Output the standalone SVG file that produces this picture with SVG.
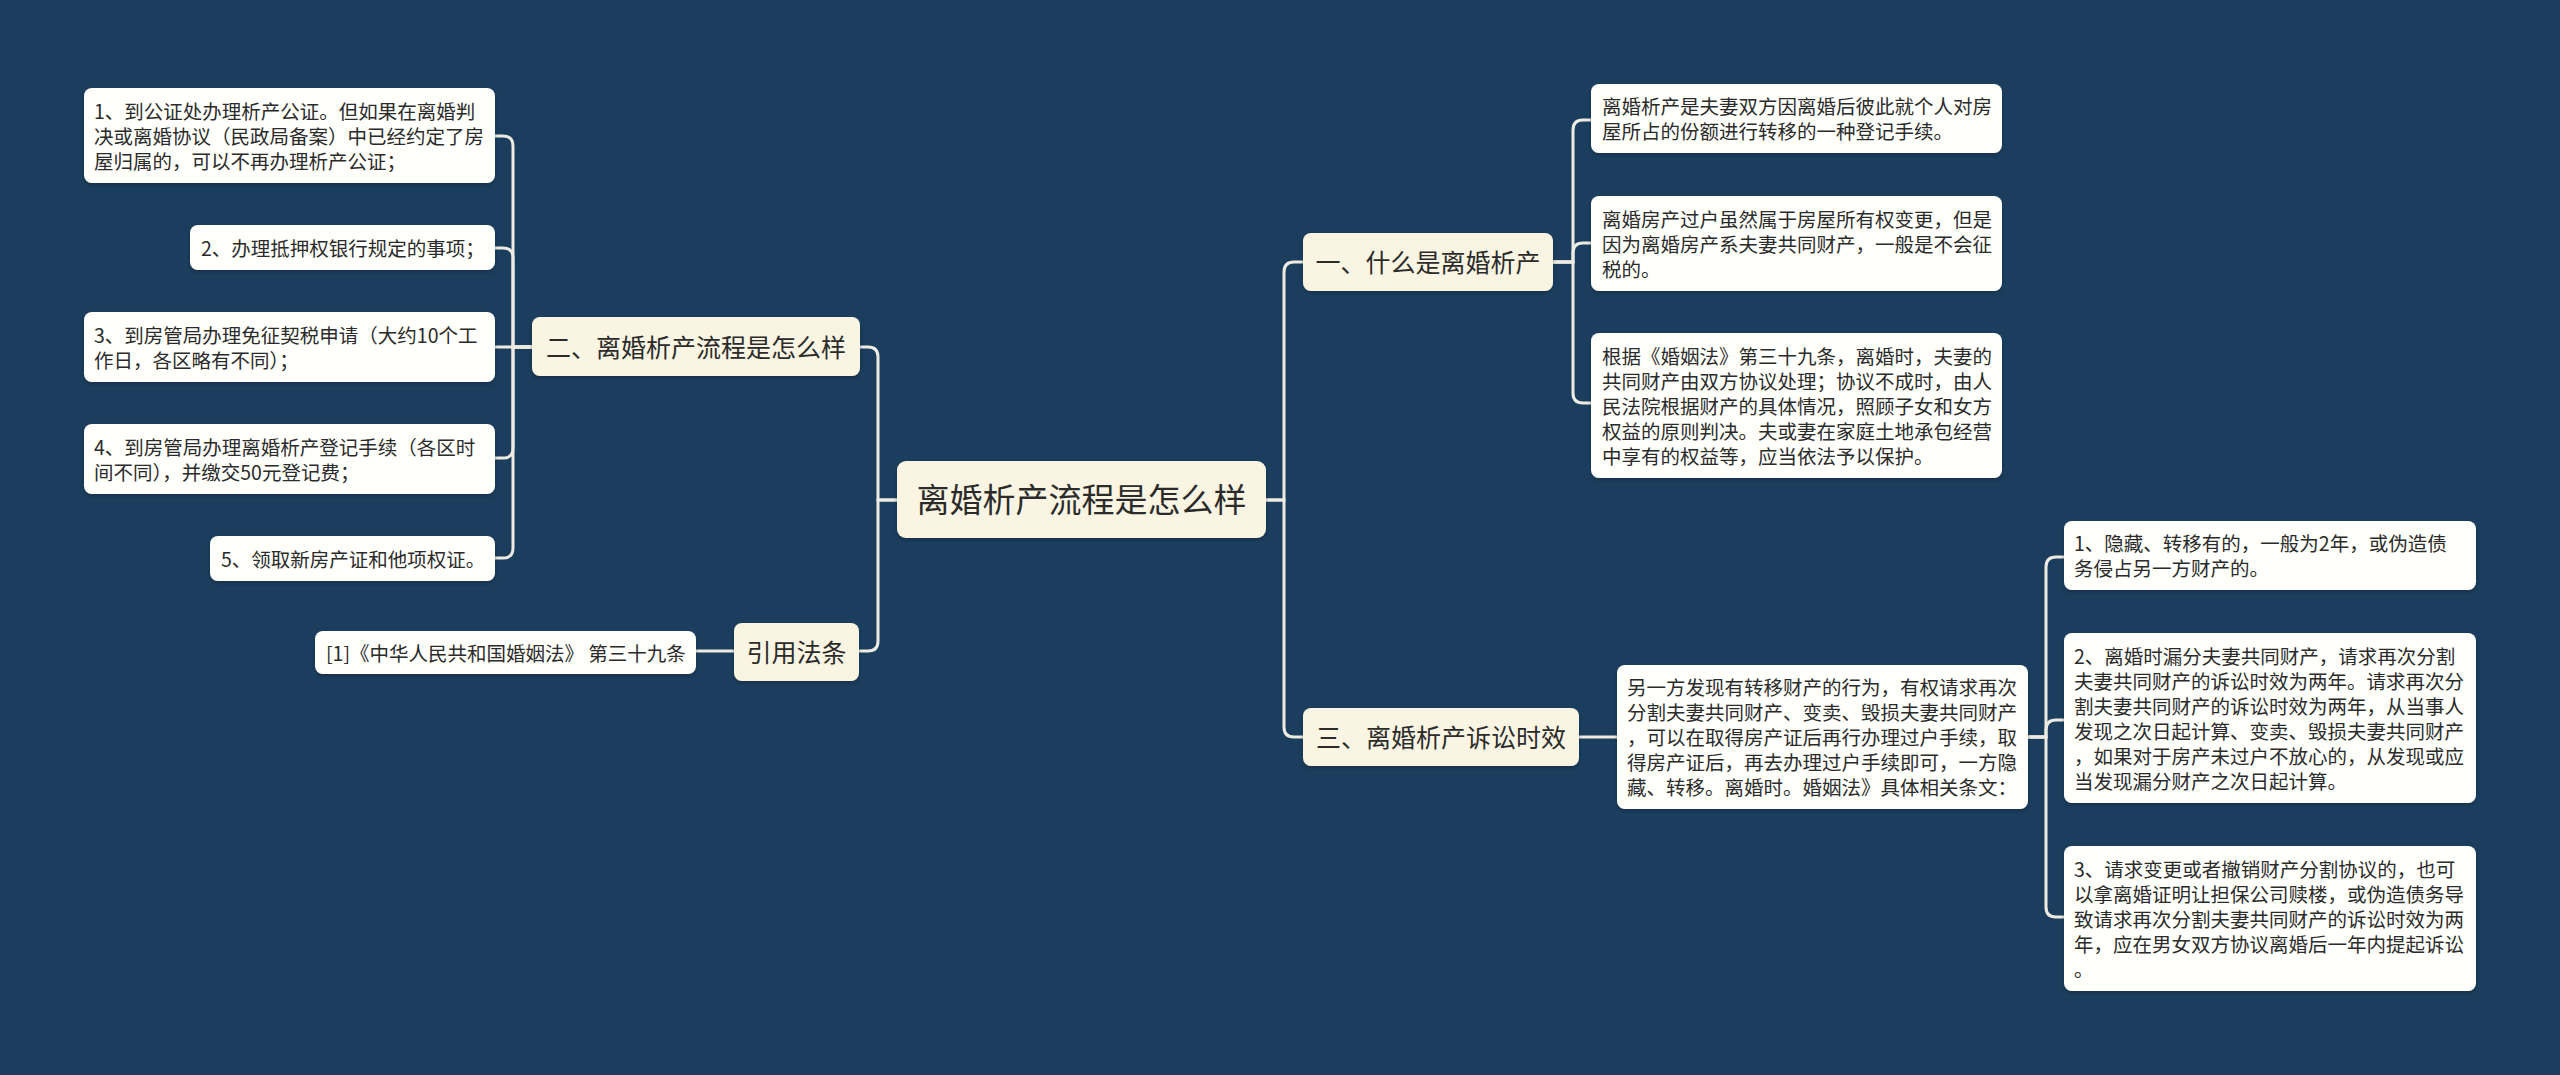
<svg xmlns="http://www.w3.org/2000/svg" width="2560" height="1075" viewBox="0 0 2560 1075">
<defs>
<filter id="sh" x="-5%" y="-10%" width="110%" height="130%">
<feDropShadow dx="0" dy="2" stdDeviation="1.5" flood-color="#0a1e30" flood-opacity="0.5"/>
</filter>
</defs>
<style>
.bg{fill:#1b3e5e}
.leaf rect{fill:#fffffb;filter:url(#sh)}
.branch rect{fill:#f9f5e2;filter:url(#sh)}
.lt{font-family:"Noto Sans CJK SC","Noto Sans",sans-serif;font-size:19.5px;fill:#2b2b2b}
.bt{font-family:"Noto Sans CJK SC","Noto Sans",sans-serif;font-size:25px;fill:#2b2b2b;text-anchor:middle}
.ct{font-family:"Noto Sans CJK SC","Noto Sans",sans-serif;font-size:33px;fill:#2b2b2b;text-anchor:middle}
.conn path{fill:none;stroke:#eeece2;stroke-width:3}
</style>
<rect class="bg" x="0" y="0" width="2560" height="1075"/>

<g class="conn" id="connectors">
<!-- central to left branches -->
<path d="M897,500 H878 V357 Q878,347 868,347 H860"/>
<path d="M897,500 H878 V641 Q878,651 868,651 H859"/>
<!-- central to right branches -->
<path d="M1266,500 H1284 V272 Q1284,262 1294,262 H1303"/>
<path d="M1266,500 H1284 V727 Q1284,737 1294,737 H1303"/>
<!-- branch 2 to leaves -->
<path d="M532,347 H513 V146 Q513,136 503,136 H495"/>
<path d="M532,347 H513 V258 Q513,248 503,248 H495"/>
<path d="M532,347 H495"/>
<path d="M532,347 H513 V448 Q513,458 503,458 H495"/>
<path d="M532,347 H513 V548 Q513,558 503,558 H495"/>
<!-- cite -->
<path d="M734,651 H696"/>
<!-- branch 1 to leaves -->
<path d="M1553,262 H1573 V130 Q1573,120 1583,120 H1591"/>
<path d="M1553,262 H1573 V253 Q1573,243 1583,243 H1591"/>
<path d="M1553,262 H1573 V393 Q1573,403 1583,403 H1591"/>
<!-- branch 3 -->
<path d="M1579,737 H1617"/>
<path d="M2028,737 H2046 V567 Q2046,557 2056,557 H2064"/>
<path d="M2028,737 H2046 V730 Q2046,720 2056,720 H2064"/>
<path d="M2028,737 H2046 V907 Q2046,917 2056,917 H2064"/>
</g>

<g class="branch" id="root">
<rect x="897" y="461" width="369" height="77" rx="9"/>
<text class="ct" x="1081.5" y="512">离婚析产流程是怎么样</text>
</g>

<g class="branch" id="b2">
<rect x="532" y="317" width="328" height="59" rx="8"/>
<text class="bt" x="696" y="356.5">二、离婚析产流程是怎么样</text>
</g>
<g class="branch" id="bcite">
<rect x="734" y="623" width="125" height="58" rx="8"/>
<text class="bt" x="796.5" y="661.5">引用法条</text>
</g>
<g class="branch" id="b1">
<rect x="1303" y="233" width="250" height="58" rx="8"/>
<text class="bt" x="1428" y="271.5">一、什么是离婚析产</text>
</g>
<g class="branch" id="b3">
<rect x="1303" y="708" width="276" height="58" rx="8"/>
<text class="bt" x="1441" y="746.5">三、离婚析产诉讼时效</text>
</g>

<g class="leaf" id="l1">
<rect x="84" y="88" width="411" height="95" rx="8"/>
<text class="lt" x="94" y="119">1、到公证处办理析产公证。但如果在离婚判</text>
<text class="lt" x="94" y="144">决或离婚协议（民政局备案）中已经约定了房</text>
<text class="lt" x="94" y="169">屋归属的，可以不再办理析产公证；</text>
</g>
<g class="leaf" id="l2">
<rect x="190" y="225" width="305" height="45" rx="8"/>
<text class="lt" x="201" y="255.5">2、办理抵押权银行规定的事项；</text>
</g>
<g class="leaf" id="l3">
<rect x="84" y="312" width="411" height="70" rx="8"/>
<text class="lt" x="94" y="342.5">3、到房管局办理免征契税申请（大约10个工</text>
<text class="lt" x="94" y="367.5">作日，各区略有不同）；</text>
</g>
<g class="leaf" id="l4">
<rect x="84" y="424" width="411" height="70" rx="8"/>
<text class="lt" x="94" y="454.5">4、到房管局办理离婚析产登记手续（各区时</text>
<text class="lt" x="94" y="479.5">间不同），并缴交50元登记费；</text>
</g>
<g class="leaf" id="l5">
<rect x="210" y="536" width="285" height="45" rx="8"/>
<text class="lt" x="221" y="566.5">5、领取新房产证和他项权证。</text>
</g>
<g class="leaf" id="lcite">
<rect x="315" y="631" width="381" height="43" rx="8"/>
<text class="lt" x="326" y="660.5">[1]《中华人民共和国婚姻法》 第三十九条</text>
</g>

<g class="leaf" id="r1">
<rect x="1591" y="84" width="411" height="69" rx="8"/>
<text class="lt" x="1602" y="114">离婚析产是夫妻双方因离婚后彼此就个人对房</text>
<text class="lt" x="1602" y="139">屋所占的份额进行转移的一种登记手续。</text>
</g>
<g class="leaf" id="r2">
<rect x="1591" y="196" width="411" height="95" rx="8"/>
<text class="lt" x="1602" y="226.5">离婚房产过户虽然属于房屋所有权变更，但是</text>
<text class="lt" x="1602" y="251.5">因为离婚房产系夫妻共同财产，一般是不会征</text>
<text class="lt" x="1602" y="276.5">税的。</text>
</g>
<g class="leaf" id="r3">
<rect x="1591" y="333" width="411" height="145" rx="8"/>
<text class="lt" x="1602" y="363.5">根据《婚姻法》第三十九条，离婚时，夫妻的</text>
<text class="lt" x="1602" y="388.5">共同财产由双方协议处理；协议不成时，由人</text>
<text class="lt" x="1602" y="413.5">民法院根据财产的具体情况，照顾子女和女方</text>
<text class="lt" x="1602" y="438.5">权益的原则判决。夫或妻在家庭土地承包经营</text>
<text class="lt" x="1602" y="463.5">中享有的权益等，应当依法予以保护。</text>
</g>

<g class="leaf" id="m">
<rect x="1617" y="665" width="411" height="144" rx="8"/>
<text class="lt" x="1627" y="695">另一方发现有转移财产的行为，有权请求再次</text>
<text class="lt" x="1627" y="720">分割夫妻共同财产、变卖、毁损夫妻共同财产</text>
<text class="lt" x="1627" y="745">，可以在取得房产证后再行办理过户手续，取</text>
<text class="lt" x="1627" y="770">得房产证后，再去办理过户手续即可，一方隐</text>
<text class="lt" x="1627" y="795">藏、转移。离婚时。婚姻法》具体相关条文：</text>
</g>

<g class="leaf" id="rr1">
<rect x="2064" y="521" width="412" height="69" rx="8"/>
<text class="lt" x="2074" y="551">1、隐藏、转移有的，一般为2年，或伪造债</text>
<text class="lt" x="2074" y="576">务侵占另一方财产的。</text>
</g>
<g class="leaf" id="rr2">
<rect x="2064" y="633" width="412" height="170" rx="8"/>
<text class="lt" x="2074" y="663.5">2、离婚时漏分夫妻共同财产，请求再次分割</text>
<text class="lt" x="2074" y="688.5">夫妻共同财产的诉讼时效为两年。请求再次分</text>
<text class="lt" x="2074" y="713.5">割夫妻共同财产的诉讼时效为两年，从当事人</text>
<text class="lt" x="2074" y="738.5">发现之次日起计算、变卖、毁损夫妻共同财产</text>
<text class="lt" x="2074" y="763.5">，如果对于房产未过户不放心的，从发现或应</text>
<text class="lt" x="2074" y="788.5">当发现漏分财产之次日起计算。</text>
</g>
<g class="leaf" id="rr3">
<rect x="2064" y="846" width="412" height="145" rx="8"/>
<text class="lt" x="2074" y="876.5">3、请求变更或者撤销财产分割协议的，也可</text>
<text class="lt" x="2074" y="901.5">以拿离婚证明让担保公司赎楼，或伪造债务导</text>
<text class="lt" x="2074" y="926.5">致请求再次分割夫妻共同财产的诉讼时效为两</text>
<text class="lt" x="2074" y="951.5">年，应在男女双方协议离婚后一年内提起诉讼</text>
<text class="lt" x="2074" y="976.5">。</text>
</g>
</svg>
